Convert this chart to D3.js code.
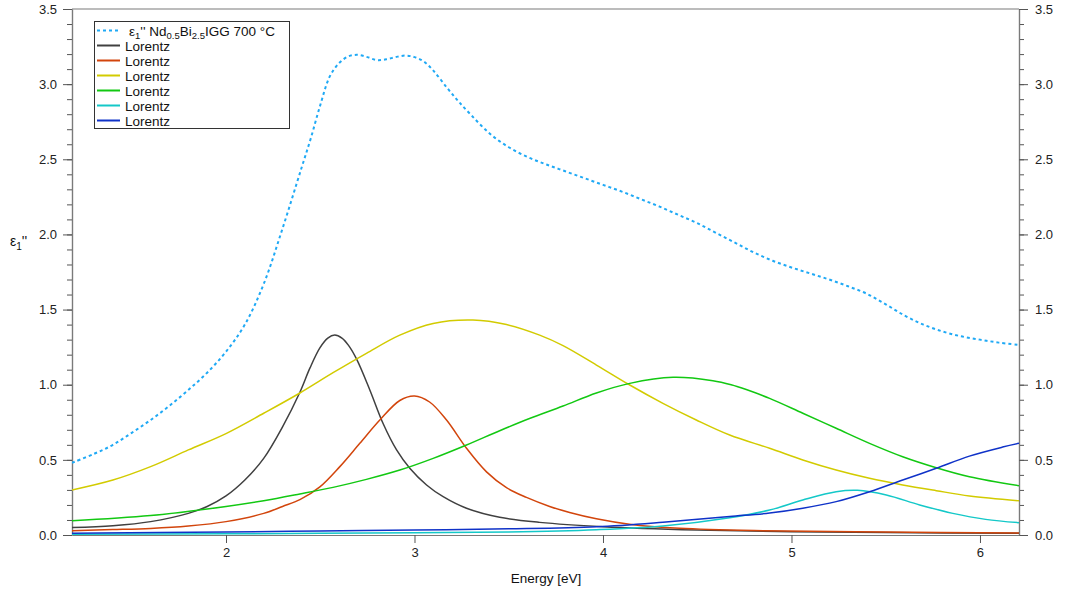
<!DOCTYPE html>
<html>
<head>
<meta charset="utf-8">
<script src="https://cdn.jsdelivr.net/npm/d3@7"></script>
<style>
  body { margin: 0; background: #fff; }
  svg { display: block; }
  text { font-family: "Liberation Sans", Arial, Helvetica, sans-serif; }
</style>
</head>
<body>
<svg id="chart" width="1069" height="596"></svg>
<script>
// Imaginary part of the dielectric tensor (off-diagonal), Nd0.5Bi2.5IGG annealed at 700 °C,
// together with the six Lorentz oscillators of the fit. Pairs are [energy eV, ε1''].
const measured = [
  [1.183,0.48],[1.3,0.54],[1.4,0.60],[1.5,0.68],[1.6,0.765],[1.7,0.86],[1.8,0.965],[1.9,1.08],
  [2.0,1.22],[2.1,1.40],[2.2,1.67],[2.3,2.04],[2.4,2.44],[2.45,2.64],[2.5,2.86],[2.55,3.05],
  [2.6,3.14],[2.65,3.185],[2.7,3.195],[2.75,3.18],[2.8,3.16],[2.85,3.165],[2.9,3.18],[2.95,3.19],
  [3.0,3.18],[3.05,3.15],[3.1,3.09],[3.17,2.98],[3.23,2.89],[3.3,2.795],[3.4,2.67],[3.5,2.58],
  [3.6,2.515],[3.7,2.465],[3.8,2.42],[3.9,2.375],[4.0,2.33],[4.1,2.285],[4.2,2.235],[4.3,2.185],
  [4.4,2.13],[4.5,2.075],[4.6,2.01],[4.7,1.945],[4.8,1.88],[4.9,1.825],[5.0,1.78],[5.1,1.74],
  [5.2,1.70],[5.3,1.655],[5.4,1.605],[5.5,1.535],[5.6,1.46],[5.7,1.40],[5.8,1.355],[5.9,1.322],
  [6.0,1.30],[6.1,1.28],[6.207,1.265]
];
const lorentz1 = [
  [1.183,0.05],[1.4,0.062],[1.6,0.089],[1.8,0.144],[1.9,0.19],[2.0,0.26],[2.1,0.366],[2.2,0.51],
  [2.3,0.72],[2.392,0.95],[2.445,1.11],[2.498,1.245],[2.54,1.31],[2.577,1.33],[2.615,1.31],
  [2.65,1.262],[2.693,1.17],[2.763,0.965],[2.834,0.74],[2.905,0.566],[2.975,0.444],[3.064,0.333],
  [3.152,0.255],[3.276,0.178],[3.452,0.118],[3.664,0.084],[4.0,0.055],[4.5,0.033],[5.0,0.022],
  [5.5,0.016],[6.207,0.011]
];
const lorentz2 = [
  [1.183,0.029],[1.4,0.036],[1.6,0.044],[1.8,0.06],[2.0,0.089],[2.2,0.144],[2.3,0.19],[2.392,0.235],
  [2.498,0.32],[2.604,0.455],[2.71,0.61],[2.816,0.765],[2.922,0.895],[3.0,0.925],[3.08,0.885],
  [3.17,0.765],[3.276,0.577],[3.382,0.42],[3.488,0.315],[3.594,0.25],[3.717,0.19],[3.823,0.15],
  [3.965,0.108],[4.14,0.072],[4.407,0.045],[4.85,0.029],[5.5,0.02],[6.207,0.013]
];
const lorentz3 = [
  [1.183,0.30],[1.4,0.366],[1.6,0.455],[1.8,0.566],[2.0,0.675],[2.2,0.81],[2.392,0.945],[2.568,1.08],
  [2.745,1.209],[2.922,1.33],[3.099,1.408],[3.31,1.43],[3.488,1.40],[3.664,1.33],[3.788,1.26],
  [3.965,1.131],[4.142,0.998],[4.318,0.876],[4.495,0.765],[4.672,0.665],[4.884,0.577],[5.06,0.499],
  [5.237,0.432],[5.414,0.377],[5.59,0.333],[5.768,0.295],[5.944,0.26],[6.207,0.228]
];
const lorentz4 = [
  [1.183,0.095],[1.6,0.129],[2.0,0.19],[2.2,0.228],[2.392,0.273],[2.568,0.317],[2.745,0.37],
  [2.922,0.432],[3.099,0.51],[3.276,0.599],[3.452,0.694],[3.61,0.775],[3.788,0.858],[3.965,0.945],
  [4.142,1.009],[4.372,1.049],[4.583,1.027],[4.68,1.0],[4.76,0.968],[4.884,0.909],[5.06,0.81],
  [5.237,0.71],[5.414,0.61],[5.59,0.521],[5.768,0.448],[5.944,0.388],[6.207,0.328]
];
const lorentz5 = [
  [1.183,0.005],[2.0,0.008],[2.5,0.011],[3.0,0.015],[3.5,0.02],[3.965,0.035],[4.318,0.06],
  [4.672,0.115],[4.884,0.166],[5.06,0.233],[5.237,0.288],[5.35,0.297],[5.503,0.266],[5.68,0.2],
  [5.856,0.144],[6.03,0.104],[6.207,0.082]
];
const lorentz6 = [
  [1.183,0.012],[2.0,0.02],[2.5,0.027],[3.0,0.033],[3.5,0.041],[3.965,0.055],[4.318,0.085],
  [4.672,0.123],[4.884,0.146],[5.06,0.178],[5.237,0.222],[5.414,0.288],[5.59,0.366],[5.768,0.444],
  [5.944,0.525],[6.12,0.585],[6.207,0.61]
];

const xTicks = [2, 3, 4, 5, 6];
const yMajorTicks = [0, 0.5, 1.0, 1.5, 2.0, 2.5, 3.0, 3.5];
const yMinorTicks = d3.range(0, 36).map(i => i / 10);

const series = [
  { data: lorentz1, color: "#404040" },
  { data: lorentz2, color: "#d2450c" },
  { data: lorentz3, color: "#d2cb00" },
  { data: lorentz4, color: "#12c812" },
  { data: lorentz5, color: "#14c8c8" },
  { data: lorentz6, color: "#0f32c8" }
];
const measuredColor = "#1fa9f5";

const svg = d3.select("#chart");
const margin = { left: 72, right: 1019, top: 9, bottom: 535 };

const x = d3.scaleLinear().domain([1.183, 6.207]).range([margin.left, margin.right]);
const y = d3.scaleLinear().domain([0, 3.5]).range([margin.bottom, margin.top]);

const axisColor = "#7a7a7a";
const tickColor = "#555";

// clip for the curves
svg.append("defs").append("clipPath").attr("id", "plotClip")
  .append("rect")
  .attr("x", margin.left).attr("y", margin.top)
  .attr("width", margin.right - margin.left).attr("height", margin.bottom - margin.top);

function styleAxis(g) {
  g.select(".domain").attr("stroke", axisColor).attr("stroke-width", 1.2);
  g.selectAll(".tick line").attr("stroke", tickColor).attr("stroke-width", 1);
  g.selectAll(".tick text").attr("fill", "#222").attr("font-size", 13);
}

// y axes (left and right), minor then major
svg.append("g").attr("transform", `translate(${margin.left},0)`)
  .call(d3.axisLeft(y).tickValues(yMinorTicks).tickSize(5).tickFormat("").tickSizeOuter(0))
  .call(styleAxis);
svg.append("g").attr("transform", `translate(${margin.left},0)`)
  .call(d3.axisLeft(y).tickValues(yMajorTicks).tickSize(9).tickPadding(6)
    .tickFormat(d3.format(".1f")).tickSizeOuter(0))
  .call(styleAxis);
svg.append("g").attr("transform", `translate(${margin.right},0)`)
  .call(d3.axisRight(y).tickValues(yMinorTicks).tickSize(5).tickFormat("").tickSizeOuter(0))
  .call(styleAxis);
svg.append("g").attr("transform", `translate(${margin.right},0)`)
  .call(d3.axisRight(y).tickValues(yMajorTicks).tickSize(9).tickPadding(7)
    .tickFormat(d3.format(".1f")).tickSizeOuter(0))
  .call(styleAxis);

// x axis
svg.append("g").attr("transform", `translate(0,${margin.bottom})`)
  .call(d3.axisBottom(x).tickValues(xTicks).tickSize(8).tickPadding(5)
    .tickFormat(d3.format("d")).tickSizeOuter(0))
  .call(styleAxis);

// top frame line
svg.append("line")
  .attr("x1", margin.left).attr("x2", margin.right)
  .attr("y1", margin.top).attr("y2", margin.top)
  .attr("stroke", axisColor).attr("stroke-width", 1.2);

// curves
const line = d3.line().x(d => x(d[0])).y(d => y(d[1])).curve(d3.curveCatmullRom.alpha(0.5));
const plot = svg.append("g").attr("clip-path", "url(#plotClip)");

series.forEach(s => {
  plot.append("path").datum(s.data)
    .attr("fill", "none").attr("stroke", s.color).attr("stroke-width", 1.5)
    .attr("d", line);
});
plot.append("path").datum(measured)
  .attr("fill", "none").attr("stroke", measuredColor).attr("stroke-width", 2)
  .attr("stroke-dasharray", "3,3")
  .attr("d", line);

// axis titles
const yTitle = svg.append("text").attr("x", 10).attr("y", 246).attr("font-size", 14).attr("fill", "#111");
yTitle.append("tspan").text("ε");
yTitle.append("tspan").attr("font-size", 10).attr("dy", 4).text("1");
yTitle.append("tspan").attr("dy", -4).text("''");

svg.append("text").attr("x", 546).attr("y", 583).attr("text-anchor", "middle")
  .attr("font-size", 13.5).attr("fill", "#111").text("Energy [eV]");

// legend
const legend = svg.append("g");
legend.append("rect")
  .attr("x", 94.5).attr("y", 21.5).attr("width", 195).attr("height", 107)
  .attr("fill", "#fff").attr("stroke", "#333").attr("stroke-width", 1);

const rowY = i => 30.5 + i * 15;
legend.append("line")
  .attr("x1", 97).attr("x2", 120).attr("y1", rowY(0)).attr("y2", rowY(0))
  .attr("stroke", measuredColor).attr("stroke-width", 2).attr("stroke-dasharray", "3,3");
const t0 = legend.append("text").attr("x", 129).attr("y", rowY(0) + 5)
  .attr("font-size", 13.5).attr("fill", "#111");
t0.append("tspan").text("ε");
t0.append("tspan").attr("font-size", 9.5).attr("dy", 3).text("1");
t0.append("tspan").attr("dy", -3).text("'' Nd");
t0.append("tspan").attr("font-size", 9.5).attr("dy", 3).text("0.5");
t0.append("tspan").attr("dy", -3).text("Bi");
t0.append("tspan").attr("font-size", 9.5).attr("dy", 3).text("2.5");
t0.append("tspan").attr("dy", -3).text("IGG 700 °C");

series.forEach((s, i) => {
  const yy = rowY(i + 1);
  legend.append("line")
    .attr("x1", 97).attr("x2", 120).attr("y1", yy).attr("y2", yy)
    .attr("stroke", s.color).attr("stroke-width", 2);
  legend.append("text").attr("x", 125).attr("y", yy + 5)
    .attr("font-size", 13.5).attr("fill", "#111").text("Lorentz");
});
</script>
</body>
</html>
